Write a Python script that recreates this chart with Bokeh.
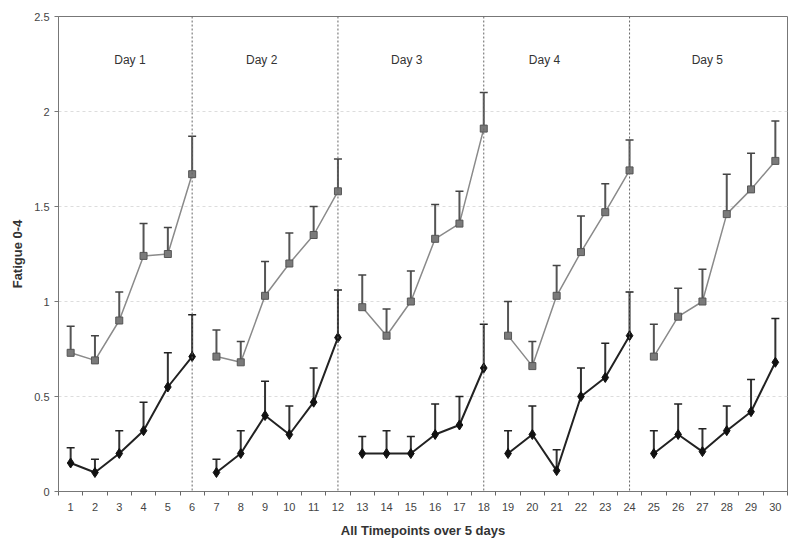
from bokeh.plotting import figure
from bokeh.models import Range1d, FixedTicker, NumeralTickFormatter, Span, ColumnDataSource
from bokeh.core.properties import value
from bokeh.embed import file_html
from bokeh.resources import INLINE

# ---- data ----
timepoints = list(range(1, 31))
grey_mean = [0.73, 0.69, 0.90, 1.24, 1.25, 1.67,
             0.71, 0.68, 1.03, 1.20, 1.35, 1.58,
             0.97, 0.82, 1.00, 1.33, 1.41, 1.91,
             0.82, 0.66, 1.03, 1.26, 1.47, 1.69,
             0.71, 0.92, 1.00, 1.46, 1.59, 1.74]
grey_upper = [0.87, 0.82, 1.05, 1.41, 1.39, 1.87,
              0.85, 0.79, 1.21, 1.36, 1.50, 1.75,
              1.14, 0.96, 1.16, 1.51, 1.58, 2.10,
              1.00, 0.79, 1.19, 1.45, 1.62, 1.85,
              0.88, 1.07, 1.17, 1.67, 1.78, 1.95]
black_mean = [0.15, 0.10, 0.20, 0.32, 0.55, 0.71,
              0.10, 0.20, 0.40, 0.30, 0.47, 0.81,
              0.20, 0.20, 0.20, 0.30, 0.35, 0.65,
              0.20, 0.30, 0.11, 0.50, 0.60, 0.82,
              0.20, 0.30, 0.21, 0.32, 0.42, 0.68]
black_upper = [0.23, 0.17, 0.32, 0.47, 0.73, 0.93,
               0.17, 0.32, 0.58, 0.45, 0.65, 1.06,
               0.29, 0.32, 0.29, 0.46, 0.50, 0.88,
               0.32, 0.45, 0.22, 0.65, 0.78, 1.05,
               0.32, 0.46, 0.33, 0.45, 0.59, 0.91]
day_labels = ["Day 1", "Day 2", "Day 3", "Day 4", "Day 5"]
day_label_x = [3.44, 8.86, 14.83, 20.5, 27.2]
day_label_y = 2.27
day_dividers = [6, 12, 18, 24]
y_ticks = [0, 0.5, 1, 1.5, 2, 2.5]
points_per_day = 6

FONT = "Liberation Sans"

p = figure(frame_width=729, frame_height=475,
           x_range=Range1d(0.5, 30.5), y_range=Range1d(0, 2.5),
           output_backend="svg", toolbar_location=None,
           min_border_left=58, min_border_top=16, min_border_right=12, min_border_bottom=60,
           background_fill_color="white", border_fill_color="white")
p.outline_line_color = "#777777"
p.outline_line_width = 1

# grid
p.xgrid.grid_line_color = None
p.ygrid.grid_line_color = "#dddddd"
p.ygrid.grid_line_dash = "3 3"
p.ygrid.ticker = FixedTicker(ticks=y_ticks)

# x axis
xa = p.xaxis[0]
xa.ticker = FixedTicker(ticks=timepoints, minor_ticks=[t - 0.5 for t in timepoints] + [timepoints[-1] + 0.5])
xa.major_tick_line_color = None
xa.major_tick_out = 4
xa.major_tick_in = 0
xa.minor_tick_out = 4
xa.minor_tick_in = 0
xa.minor_tick_line_color = "#666666"
xa.axis_line_color = "#777777"
xa.major_label_text_font = FONT
xa.major_label_text_font_size = "11px"
xa.major_label_text_color = "#444444"
xa.major_label_standoff = 7
xa.axis_label = "All Timepoints over 5 days"
xa.axis_label_text_font = FONT
xa.axis_label_text_font_size = "13px"
xa.axis_label_text_font_style = "bold"
xa.axis_label_text_color = "#333333"
xa.axis_label_standoff = 9

# y axis
ya = p.yaxis[0]
ya.ticker = FixedTicker(ticks=y_ticks)
ya.formatter = NumeralTickFormatter(format="0.[0]")
ya.major_tick_out = 4
ya.major_tick_in = 0
ya.major_tick_line_color = "#777777"
ya.minor_tick_line_color = None
ya.axis_line_color = "#777777"
ya.major_label_text_font = FONT
ya.major_label_text_font_size = "11px"
ya.major_label_text_color = "#444444"
ya.major_label_standoff = 5
ya.axis_label = "Fatigue 0-4"
ya.axis_label_text_font = FONT
ya.axis_label_text_font_size = "13px"
ya.axis_label_text_font_style = "bold"
ya.axis_label_text_color = "#333333"
ya.axis_label_standoff = 6

# day dividers
for d in day_dividers:
    p.add_layout(Span(location=d, dimension="height", line_color="#666666",
                      line_dash="2 2", line_width=1))

# day labels
p.text(x=day_label_x, y=[day_label_y] * len(day_labels), text=day_labels,
       text_font=value(FONT), text_font_size="12px", text_color="#333333",
       text_align="center", text_baseline="middle")

def grouped(arr):
    return [arr[i:i + points_per_day] for i in range(0, len(arr), points_per_day)]

src = ColumnDataSource(dict(x=timepoints, gm=grey_mean, gu=grey_upper,
                            bm=black_mean, bu=black_upper))

# grey series
p.multi_line(xs=grouped(timepoints), ys=grouped(grey_mean), line_color="#8a8a8a", line_width=1.5)
p.segment(x0="x", y0="gm", x1="x", y1="gu", source=src, line_color="#555555", line_width=2)
p.scatter(x="x", y="gu", source=src, marker="dash", size=8, line_color="#444444", line_width=1.5)
p.scatter(x="x", y="gm", source=src, marker="square", size=7, fill_color="#7a7a7a",
          line_color="#555555", line_width=1)

# black series
p.multi_line(xs=grouped(timepoints), ys=grouped(black_mean), line_color="#222222", line_width=2)
p.segment(x0="x", y0="bm", x1="x", y1="bu", source=src, line_color="#333333", line_width=2)
p.scatter(x="x", y="bu", source=src, marker="dash", size=8, line_color="#222222", line_width=1.5)
p.scatter(x="x", y="bm", source=src, marker="diamond", size=10, fill_color="#111111",
          line_color="#111111", line_width=1)

open("out.html", "w").write(file_html(p, INLINE))
